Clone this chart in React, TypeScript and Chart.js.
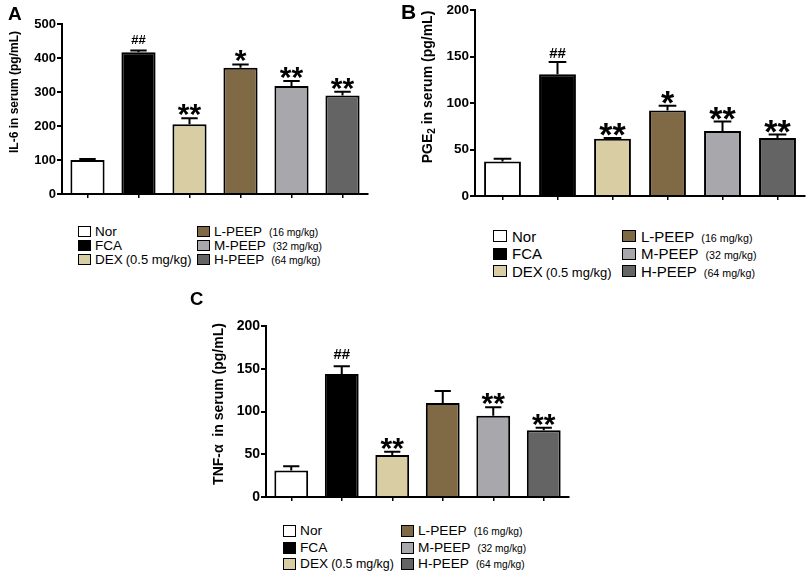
import React, { useEffect, useRef } from 'react';
import { Chart, registerables } from 'chart.js';

Chart.register(...registerables);

const FONT = '"Liberation Sans", Arial, sans-serif';

const groups = ['Nor', 'FCA', 'DEX', 'L-PEEP', 'M-PEEP', 'H-PEEP'];
const doses = ['', '', '(0.5 mg/kg)', '(16 mg/kg)', '(32 mg/kg)', '(64 mg/kg)'];
const barColors = ['#ffffff', '#000000', '#d8cda3', '#7f6a45', '#a7a7ac', '#646464'];

// panel A - IL-6
const il6Values = [100, 417, 205, 371, 318, 290];
const il6Errors = [3, 5, 18, 10, 14, 11];
const il6Marks = ['', '##', '**', '*', '**', '**'];
const il6Ticks = [0, 100, 200, 300, 400, 500];

// panel B - PGE2
const pge2Values = [37, 131, 61.5, 92, 70, 62.5];
const pge2Errors = [3, 13, 1, 5, 10, 3.5];
const pge2Marks = ['', '##', '**', '*', '**', '**'];
const pge2Ticks = [0, 50, 100, 150, 200];

// panel C - TNF-a
const tnfValues = [31, 144, 49, 110, 95, 78];
const tnfErrors = [5, 9, 4, 14, 10, 3];
const tnfMarks = ['', '##', '**', '', '**', '**'];
const tnfTicks = [0, 50, 100, 150, 200];

type Seg = { text: string; sub?: boolean };

interface PanelSpec {
  values: number[];
  errors: number[];
  marks: string[];
  ticks: number[];
  title: Seg[];
  // layout
  left: number;
  top: number;
  width: number;
  height: number;
  padding: { left: number; top: number; right: number; bottom: number };
  yWidth: number;
  xHeight: number;
  tickSize: number;
  titleSize: number;
  titleX: number;
  titleY: number;
  starSize: number;
  hashSize: number;
  hashGap: number;
}

const errorBarPlugin = (p: PanelSpec) => ({
  id: 'errorBars',
  afterDatasetsDraw(chart: any) {
    const { ctx } = chart;
    const y = chart.scales.y;
    const meta = chart.getDatasetMeta(0);
    meta.data.forEach((bar: any, i: number) => {
      const top = y.getPixelForValue(p.values[i] + p.errors[i]);
      const half = bar.width * 0.24;
      ctx.save();
      ctx.strokeStyle = '#000';
      ctx.lineWidth = 2;
      ctx.beginPath();
      ctx.moveTo(bar.x, bar.y);
      ctx.lineTo(bar.x, top);
      ctx.moveTo(bar.x - half, top);
      ctx.lineTo(bar.x + half, top);
      ctx.stroke();

      const mark = p.marks[i];
      if (mark) {
        const hash = mark.includes('#');
        ctx.font = `bold ${hash ? p.hashSize : p.starSize}px ${FONT}`;
        ctx.fillStyle = '#000';
        ctx.textAlign = 'center';
        ctx.textBaseline = 'alphabetic';
        const m = ctx.measureText(mark);
        const gap = hash ? p.hashGap : 2;
        ctx.fillText(mark, bar.x, top - gap - m.actualBoundingBoxDescent);
      }
      ctx.restore();
    });
  },
});

// rotated y title, with subscript support
const yTitlePlugin = (p: PanelSpec) => ({
  id: 'yTitle',
  afterDraw(chart: any) {
    const { ctx } = chart;
    const big = `bold ${p.titleSize}px ${FONT}`;
    const small = `bold ${Math.round(p.titleSize * 0.7)}px ${FONT}`;
    ctx.save();
    ctx.translate(p.titleX, p.titleY);
    ctx.rotate(-Math.PI / 2);
    ctx.fillStyle = '#000';
    ctx.textBaseline = 'middle';
    ctx.textAlign = 'left';
    let total = 0;
    p.title.forEach((s) => {
      ctx.font = s.sub ? small : big;
      total += ctx.measureText(s.text).width;
    });
    let x = -total / 2;
    p.title.forEach((s) => {
      ctx.font = s.sub ? small : big;
      ctx.fillText(s.text, x, s.sub ? p.titleSize * 0.3 : 0);
      x += ctx.measureText(s.text).width;
    });
    ctx.restore();
  },
});

const BarPanel: React.FC<{ spec: PanelSpec }> = ({ spec }) => {
  const canvasRef = useRef<HTMLCanvasElement>(null);

  useEffect(() => {
    if (!canvasRef.current) return;
    const p = spec;
    const chart = new Chart(canvasRef.current, {
      type: 'bar',
      data: {
        labels: groups,
        datasets: [
          {
            data: p.values,
            backgroundColor: barColors,
            borderColor: '#000',
            borderWidth: 2,
            barPercentage: 0.67,
            categoryPercentage: 1,
          },
        ],
      },
      options: {
        animation: false,
        responsive: false,
        maintainAspectRatio: false,
        layout: { padding: p.padding },
        plugins: {
          legend: { display: false },
          tooltip: { enabled: false },
        },
        scales: {
          x: {
            grid: {
              offset: false,
              drawOnChartArea: false,
              color: '#000',
              lineWidth: 1.5,
              tickLength: 4,
            },
            border: { color: '#000', width: 2 },
            ticks: { display: false },
            afterFit: (s: any) => {
              s.height = p.xHeight;
            },
          },
          y: {
            min: p.ticks[0],
            max: p.ticks[p.ticks.length - 1],
            afterBuildTicks: (s: any) => {
              s.ticks = p.ticks.map((v) => ({ value: v }));
            },
            grid: {
              drawOnChartArea: false,
              color: '#000',
              lineWidth: 2,
              tickLength: 5,
            },
            border: { color: '#000', width: 2 },
            ticks: {
              color: '#000',
              padding: 1,
              font: { family: FONT, size: p.tickSize, weight: 'bold' },
            },
            afterFit: (s: any) => {
              s.width = p.yWidth;
            },
          },
        },
      } as any,
      plugins: [errorBarPlugin(p), yTitlePlugin(p)],
    });
    return () => chart.destroy();
  }, [spec]);

  return (
    <canvas
      ref={canvasRef}
      width={spec.width}
      height={spec.height}
      style={{ position: 'absolute', left: spec.left, top: spec.top, width: spec.width, height: spec.height }}
    />
  );
};

interface LegendSpec {
  leftX: number;
  rightX: number;
  top: number;
  rowH: number;
  boxW: number;
  boxH: number;
  gap: number;
  font: number;
  doseLeft: number;
  doseRight: number;
}

const Legend: React.FC<{ spec: LegendSpec }> = ({ spec }) => (
  <>
    {groups.map((g, i) => {
      const col = i < 3 ? 0 : 1;
      const row = i % 3;
      const cy = spec.top + row * spec.rowH;
      return (
        <div
          key={g}
          style={{
            position: 'absolute',
            left: col === 0 ? spec.leftX : spec.rightX,
            top: cy - 10,
            height: 20,
            display: 'flex',
            alignItems: 'center',
            whiteSpace: 'nowrap',
            fontFamily: FONT,
            color: '#000',
            lineHeight: 1,
          }}
        >
          <span
            style={{
              display: 'inline-block',
              flex: 'none',
              width: spec.boxW,
              height: spec.boxH,
              boxSizing: 'border-box',
              border: '1.5px solid #000',
              background: barColors[i],
              marginRight: spec.gap,
            }}
          />
          <span style={{ fontSize: spec.font }}>
            {g}
            {doses[i] && (
              <span
                style={{
                  fontSize: col === 0 ? spec.doseLeft : spec.doseRight,
                  marginLeft: col === 0 ? 3 : 7,
                }}
              >
                {doses[i]}
              </span>
            )}
          </span>
        </div>
      );
    })}
  </>
);

const panelA: PanelSpec = {
  values: il6Values,
  errors: il6Errors,
  marks: il6Marks,
  ticks: il6Ticks,
  title: [{ text: 'IL-6 in serum (pg/mL)' }],
  left: 0,
  top: 0,
  width: 380,
  height: 215,
  padding: { left: 0, top: 24, right: 12, bottom: 0 },
  yWidth: 62,
  xHeight: 21,
  tickSize: 13,
  titleSize: 12,
  titleX: 15,
  titleY: 92,
  starSize: 30,
  hashSize: 13,
  hashGap: 7,
};

const panelB: PanelSpec = {
  values: pge2Values,
  errors: pge2Errors,
  marks: pge2Marks,
  ticks: pge2Ticks,
  title: [{ text: 'PGE' }, { text: '2', sub: true }, { text: ' in serum (pg/mL)' }],
  left: 400,
  top: 0,
  width: 409,
  height: 215,
  padding: { left: 0, top: 10, right: 4, bottom: 0 },
  yWidth: 75,
  xHeight: 19,
  tickSize: 13.5,
  titleSize: 14,
  titleX: 28,
  titleY: 87,
  starSize: 34,
  hashSize: 15,
  hashGap: 4,
};

const panelC: PanelSpec = {
  values: tnfValues,
  errors: tnfErrors,
  marks: tnfMarks,
  ticks: tnfTicks,
  title: [{ text: 'TNF-\u03b1  in serum (pg/mL)' }],
  left: 190,
  top: 300,
  width: 400,
  height: 215,
  padding: { left: 0, top: 26, right: 21, bottom: 0 },
  yWidth: 76,
  xHeight: 18,
  tickSize: 14,
  titleSize: 14,
  titleX: 29,
  titleY: 104,
  starSize: 30,
  hashSize: 15,
  hashGap: 7,
};

const legendA: LegendSpec = {
  leftX: 78, rightX: 197, top: 231.7, rowH: 13.8, boxW: 13, boxH: 11, gap: 4,
  font: 13.5, doseLeft: 13, doseRight: 10.3,
};
const legendB: LegendSpec = {
  leftX: 493, rightX: 622, top: 236, rowH: 17.5, boxW: 14, boxH: 12, gap: 5,
  font: 15, doseLeft: 13, doseRight: 10.7,
};
const legendC: LegendSpec = {
  leftX: 283, rightX: 401, top: 531, rowH: 16.5, boxW: 13, boxH: 12, gap: 4,
  font: 13.7, doseLeft: 12.4, doseRight: 10.2,
};

const letterStyle = (left: number, top: number, size: number): React.CSSProperties => ({
  position: 'absolute',
  left,
  top,
  fontFamily: FONT,
  fontWeight: 'bold',
  fontSize: size,
  lineHeight: 1,
  color: '#000',
});

const App: React.FC = () => (
  <div
    style={{
      position: 'absolute',
      left: 0,
      top: 0,
      width: 809,
      height: 575,
      background: '#fff',
      overflow: 'hidden',
    }}
  >
    <BarPanel spec={panelA} />
    <BarPanel spec={panelB} />
    <BarPanel spec={panelC} />
    <Legend spec={legendA} />
    <Legend spec={legendB} />
    <Legend spec={legendC} />
    <div style={letterStyle(8, 4, 19)}>A</div>
    <div style={letterStyle(401, 0.5, 21)}>B</div>
    <div style={letterStyle(190, 289.5, 18.5)}>C</div>
  </div>
);

export default App;
